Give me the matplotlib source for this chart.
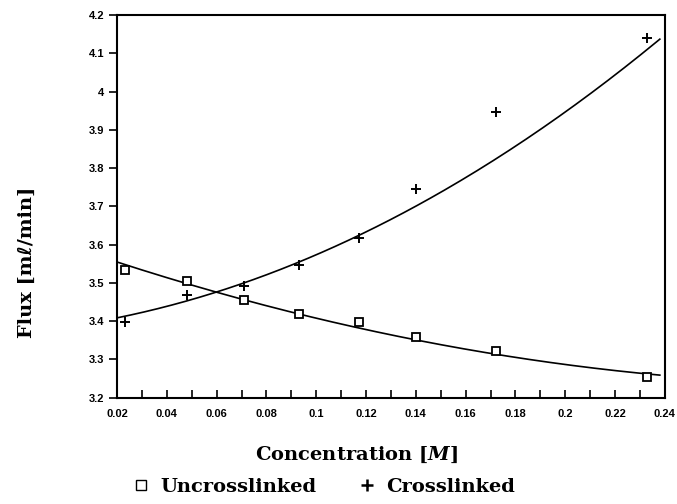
import matplotlib
matplotlib.use("Agg")
import matplotlib.pyplot as plt
import numpy as np
from matplotlib.ticker import MultipleLocator
from matplotlib.lines import Line2D

conc = [0.023, 0.048, 0.071, 0.093, 0.117, 0.140, 0.172, 0.233]
flux_uncross = [3.535, 3.506, 3.455, 3.418, 3.397, 3.359, 3.321, 3.255]
flux_cross = [3.397, 3.468, 3.491, 3.547, 3.617, 3.745, 3.948, 4.139]

# fitted curves at a few concentrations
fit_conc_uncross = [0.020, 0.060, 0.093, 0.165, 0.238]
fit_uncross = [3.553, 3.477, 3.421, 3.318, 3.260]
fit_conc_cross = [0.020, 0.060, 0.093, 0.117, 0.165, 0.204, 0.238]
fit_cross = [3.407, 3.477, 3.559, 3.619, 3.804, 3.951, 4.144]

xtick_labels = ['0.02', '0.04', '0.06', '0.08', '0.1', '0.12', '0.14',
                '0.16', '0.18', '0.2', '0.22', '0.24']
ytick_labels = ['3.2', '3.3', '3.4', '3.5', '3.6', '3.7', '3.8', '3.9',
                '4', '4.1', '4.2']

plt.rcParams['mathtext.fontset'] = 'custom'
plt.rcParams['mathtext.it'] = 'DejaVu Serif:italic:bold'
plt.rcParams['mathtext.rm'] = 'DejaVu Serif:bold'

serif = ['DejaVu Serif', 'DejaVu Sans', 'Liberation Serif']
tick_font = {'family': 'Liberation Sans', 'weight': 'bold', 'size': 8}

fig = plt.figure(figsize=[6.77, 5.04], dpi=100)
ax = fig.add_axes([0.173, 0.211, 0.809, 0.759])

# smooth curves through the read-off fit values
xs1 = np.linspace(fit_conc_uncross[0], fit_conc_uncross[-1], 200)
xs2 = np.linspace(fit_conc_cross[0], fit_conc_cross[-1], 200)
p1 = np.polyfit(fit_conc_uncross, fit_uncross, 2)
p2 = np.polyfit(fit_conc_cross, fit_cross, 2)
ax.plot(xs1, np.polyval(p1, xs1), color='black', lw=1.2)
ax.plot(xs2, np.polyval(p2, xs2), color='black', lw=1.2)

ax.plot(conc, flux_uncross, 's', ms=5.5, mfc='white', mec='black', mew=1.3, ls='none')
ax.plot(conc, flux_cross, '+', ms=7.5, mec='black', mew=1.4, ls='none')

ax.set_xlim(0.02, 0.24)
ax.set_ylim(3.2, 4.2)
ax.set_xticks(np.arange(0.02, 0.2401, 0.02))
ax.set_xticklabels(xtick_labels, fontdict=tick_font)
ax.xaxis.set_minor_locator(MultipleLocator(0.01))
ax.set_yticks(np.arange(3.2, 4.2001, 0.1))
ax.set_yticklabels(ytick_labels, fontdict=tick_font)

ax.tick_params(axis='x', which='both', direction='in', length=6, width=1.2, pad=8)
ax.tick_params(axis='y', direction='out', length=6, width=1.2, pad=3)

for s in ax.spines.values():
    s.set_linewidth(1.5)

fig.text(357 / 677, 1 - 455 / 504, 'Concentration [$\\mathit{M}$]', family=serif,
         weight='bold', size=14, ha='center', va='center')
fig.text(27 / 677, 1 - 262 / 504, 'Flux [m\u2113/min]', family=serif,
         weight='bold', size=14, ha='center', va='center', rotation=90)

handles = [Line2D([], [], marker='s', ms=7, mfc='white', mec='black', mew=1.0, ls='none'),
           Line2D([], [], marker='+', ms=8, mec='black', mew=1.8, ls='none')]
fig.legend(handles, ['Uncrosslinked', 'Crosslinked'], loc='center',
           bbox_to_anchor=(324 / 677, 1 - 487 / 504), ncol=2, frameon=False,
           handlelength=0.8, handletextpad=0.6, columnspacing=2.2,
           prop={'family': serif, 'weight': 'bold', 'size': 14})

plt.savefig('out.png', dpi=100)
